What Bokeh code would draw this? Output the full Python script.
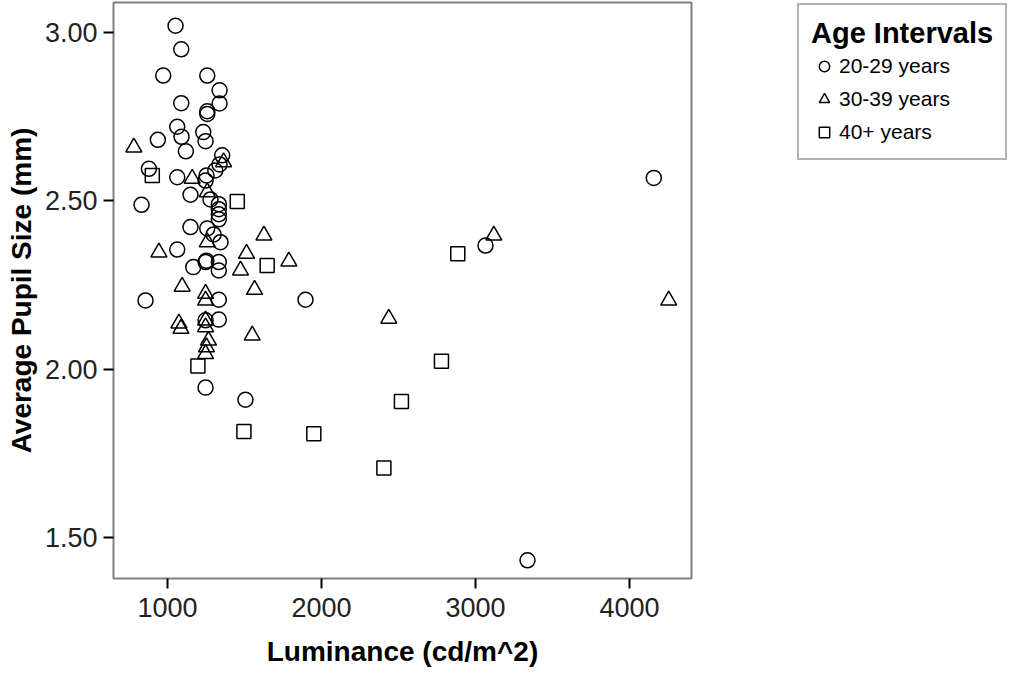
from bokeh.plotting import figure
from bokeh.models import FixedTicker, NumeralTickFormatter, Legend
from bokeh.layouts import row
from bokeh.embed import file_html
from bokeh.resources import INLINE

# --- data (luminance cd/m^2, average pupil size mm) ---
lum_20_29 = [1052, 1089, 972, 1258, 1338, 1338, 1089, 1258, 1258, 1063, 1232, 937,
             1091, 1247, 1119, 1355, 1338, 1310, 879, 1063, 1253, 1247, 1149, 1279,
             831, 1333, 1333, 1333, 1333, 1149, 1258, 1299, 1344, 1063, 1167, 1247,
             1252, 1333, 1333, 857, 1333, 1896, 1247, 1333, 1247, 1506, 4158, 3065, 3338]
pup_20_29 = [3.02, 2.95, 2.872, 2.872, 2.828, 2.789, 2.79, 2.766, 2.758, 2.72, 2.704, 2.681,
             2.69, 2.677, 2.647, 2.635, 2.608, 2.59, 2.595, 2.57, 2.575, 2.56, 2.518, 2.504,
             2.488, 2.49, 2.475, 2.46, 2.445, 2.422, 2.418, 2.40, 2.377, 2.355, 2.303, 2.318,
             2.322, 2.318, 2.293, 2.204, 2.206, 2.206, 2.145, 2.147, 1.945, 1.909, 2.568, 2.367, 1.432]

lum_30_39 = [781, 1160, 1364, 1258, 1258, 1626, 944, 1513, 1788, 1474, 1095, 1565,
             1247, 1247, 1074, 1087, 1247, 1247, 1550, 1266, 1253, 1247, 3119, 4255, 2437]
pup_30_39 = [2.659, 2.566, 2.615, 2.526, 2.377, 2.397, 2.347, 2.343, 2.32, 2.293, 2.245, 2.236,
             2.224, 2.204, 2.136, 2.12, 2.145, 2.125, 2.10, 2.085, 2.065, 2.045, 2.397, 2.204, 2.150]

lum_40 = [901, 1453, 1647, 1197, 1496, 1950, 2885, 2779, 2519, 2405]
pup_40 = [2.575, 2.498, 2.308, 2.009, 1.815, 1.808, 2.343, 2.023, 1.904, 1.706]

groups = ["20-29 years", "30-39 years", "40+ years"]
x_ticks = [1000, 2000, 3000, 4000]
y_ticks = [1.5, 2.0, 2.5, 3.0]

FONT = "Liberation Sans"

p = figure(width=796, height=675, x_range=(649, 4403), y_range=(1.378, 3.089),
           output_backend="svg", toolbar_location=None,
           min_border_left=113, min_border_right=105, min_border_top=2, min_border_bottom=97)

p.background_fill_color = "white"
p.border_fill_color = "white"
p.outline_line_color = "#808080"
p.outline_line_width = 2
p.xgrid.visible = False
p.ygrid.visible = False

for ax in (p.xaxis[0], p.yaxis[0]):
    ax.axis_line_color = None
    ax.major_tick_in = 0
    ax.major_tick_out = 10
    ax.major_tick_line_width = 2
    ax.major_tick_line_color = "black"
    ax.minor_tick_line_color = None
    ax.major_label_text_font = FONT
    ax.major_label_text_font_size = "27px"
    ax.major_label_text_color = "#222222"
    ax.axis_label_text_font = FONT
    ax.axis_label_text_font_size = "28px"
    ax.axis_label_text_font_style = "bold"
    ax.axis_label_text_color = "black"

p.xaxis.major_label_standoff = 9
p.xaxis.axis_label_standoff = 16
p.yaxis.major_label_standoff = 6
p.yaxis.axis_label_standoff = 5

p.xaxis.ticker = FixedTicker(ticks=x_ticks)
p.yaxis.ticker = FixedTicker(ticks=y_ticks)
p.yaxis.formatter = NumeralTickFormatter(format="0.00")
p.xaxis.axis_label = "Luminance (cd/m^2)"
p.yaxis.axis_label = "Average Pupil Size (mm)"

common = dict(fill_color=None, line_color="black", line_width=1.5)
p.scatter(lum_20_29, pup_20_29, marker="circle", size=15, **common)
p.scatter(lum_30_39, pup_30_39, marker="triangle", size=16, **common)
p.scatter(lum_40, pup_40, marker="square", size=14, **common)

# --- legend panel (separate figure to the right; its data lie outside its range) ---
lg = figure(width=214, height=675, x_axis_type=None, y_axis_type=None,
            x_range=(0, 1), y_range=(0, 1),
            output_backend="svg", toolbar_location=None, min_border=0)
lg.outline_line_color = None
lg.background_fill_color = "white"
lg.border_fill_color = "white"
k1 = lg.scatter(lum_20_29, pup_20_29, marker="circle", size=13, **common)
k2 = lg.scatter(lum_30_39, pup_30_39, marker="triangle", size=14, **common)
k3 = lg.scatter(lum_40, pup_40, marker="square", size=13, **common)

legend = Legend(items=[(groups[0], [k1]), (groups[1], [k2]), (groups[2], [k3])],
                location="top_left", title="Age Intervals")
legend.title_text_font = FONT
legend.title_text_font_size = "29px"
legend.title_text_font_style = "bold"
legend.title_text_color = "black"
legend.label_text_font = FONT
legend.label_text_font_size = "21px"
legend.label_text_color = "black"
legend.border_line_color = "#666666"
legend.border_line_width = 2
legend.background_fill_color = "white"
legend.padding = 12
legend.margin = 1
legend.spacing = 5
legend.glyph_width = 26
legend.glyph_height = 28
legend.label_height = 28
legend.label_standoff = 2
legend.title_standoff = 2
lg.add_layout(legend, "center")

open("out.html", "w").write(file_html(row(p, lg), INLINE))
